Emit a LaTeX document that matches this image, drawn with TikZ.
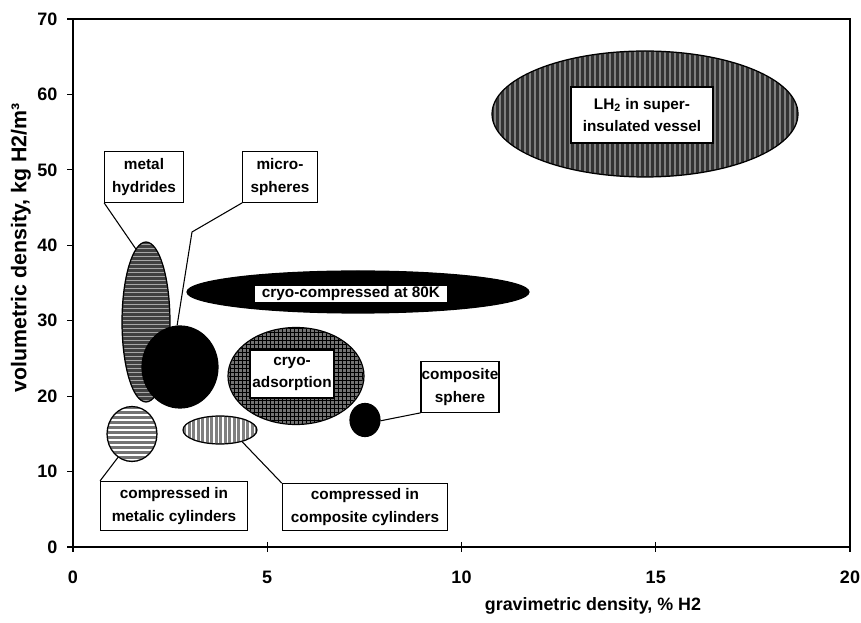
\documentclass[tikz,border=0pt]{standalone}
\usepackage{fontspec}
\setmainfont{Liberation Sans}
\usetikzlibrary{shapes.geometric}
\begin{document}
\begin{tikzpicture}[x=0.75pt,y=-0.75pt,
  ell/.style={ellipse,draw,line width=0.9pt,inner sep=0pt},
  lbox/.style={draw,line width=0.8pt,fill=white,align=center,inner sep=0pt,
    font=\bfseries\fontsize{11.5}{17}\selectfont},
  leader/.style={line width=0.8pt},
  ticklbl/.style={font=\bfseries\fontsize{13.5}{16}\selectfont},
  tickmark/.style={line width=0.8pt}]
\useasboundingbox (0,0) rectangle (861,623);
% frame
\draw[line width=0.9pt] (73,19) rectangle (850,547);
% y axis ticks and labels
\foreach \v/\t in {0/0,1/10,2/20,3/30,4/40,5/50,6/60,7/70}{
  \draw[tickmark] (67,{547-75.43*\v}) -- (73,{547-75.43*\v});
  \node[ticklbl,anchor=east] (ylab\v) at (62,{547-75.43*\v}) {\t};
}
% x axis ticks and labels
\foreach \u in {0,5,10,15,20}{
  \draw[tickmark] ({73+38.85*\u},542) -- ({73+38.85*\u},552);
  \node[ticklbl] (xlab\u) at ({73+38.85*\u},577) {\u};
}
% axis titles
\node[font=\bfseries\fontsize{13.4}{16}\selectfont] (xtitle) at (593,606) {gravimetric density, \% H2};
\node[rotate=90,font=\bfseries\fontsize{16}{19}\selectfont] (ytitle) at (21,248) {volumetric density, kg H2/m³};
% LH2 ellipse
\node[ell,minimum width=229.5pt,minimum height=94.5pt,fill=black!80] (lh2E) at (645,114) {};
\begin{scope}
  \clip (645,114) ellipse [x radius=152, y radius=62];
  \foreach \xx in {494,499,...,800} \fill[black!50] (\xx,50) rectangle ({\xx+1.6},180);
\end{scope}
% cryo-compressed
\node[ell,minimum width=256.5pt,minimum height=31.5pt,fill=black] (ccE80) at (358,292) {};
% cryo-adsorption
\node[ell,minimum width=102pt,minimum height=72.75pt,fill=black!55] (adsE) at (296,376) {};
\begin{scope}
  \clip (296,376) ellipse [x radius=67, y radius=48];
  \foreach \xx in {230,234,...,364} \fill[black] (\xx,326) rectangle ({\xx+1.3},426);
  \foreach \yy in {328,332,...,426} \fill[black] (226,\yy) rectangle (366,{\yy+1.3});
\end{scope}
% metal hydrides
\node[ell,minimum width=36pt,minimum height=120pt,fill=black!75] (mhE) at (146,322) {};
\begin{scope}
  \clip (146,322) ellipse [x radius=23, y radius=79];
  \foreach \yy in {244,248,...,402} \fill[black!35] (120,\yy) rectangle (172,{\yy+1.4});
\end{scope}
% micro-spheres
\node[ell,minimum width=57pt,minimum height=61.5pt,fill=black] (msE) at (180,367) {};
% compressed metallic cylinders
\node[ell,minimum width=37.5pt,minimum height=41.25pt,fill=black!55] (mcE) at (132,434) {};
\begin{scope}
  \clip (132,434) ellipse [x radius=24, y radius=26.5];
  \foreach \yy in {409,414,...,462} \fill[white] (106,\yy) rectangle (158,{\yy+1.8});
\end{scope}
% compressed composite cylinders
\node[ell,minimum width=55.5pt,minimum height=21pt,fill=black!50] (ccE) at (220,430) {};
\begin{scope}
  \clip (220,430) ellipse [x radius=36, y radius=13];
  \foreach \xx in {186,190.5,...,256} \fill[white] (\xx,415) rectangle ({\xx+1.6},445);
\end{scope}
% composite sphere
\node[ell,minimum width=22.5pt,minimum height=24.75pt,fill=black] (csE) at (365,420) {};
% text boxes
\node[lbox,minimum width=106.5pt,minimum height=42pt] (lh2T) at (642,115) {LH\textsubscript{2} in super-\\insulated vessel};
\node[lbox,minimum width=145.5pt,minimum height=13.5pt] (c80T) at (351,294) {cryo-compressed at 80K};
\node[lbox,minimum width=63pt,minimum height=36pt] (adsT) at (292,374) {cryo-\\adsorption};
\node[lbox,minimum width=59pt,minimum height=38pt] (mhT) at (144,177) {metal\\hydrides};
\node[lbox,minimum width=56pt,minimum height=38pt] (msT) at (280,177) {micro-\\spheres};
\node[lbox,minimum width=58.5pt,minimum height=38pt] (csT) at (460,387) {composite\\sphere};
\node[lbox,minimum width=110pt,minimum height=37pt] (mcT) at (174,506) {compressed in\\metalic cylinders};
\node[lbox,minimum width=124pt,minimum height=35pt] (ccT) at (365,507) {compressed in\\composite cylinders};
% leaders
\coordinate (msbend) at (192,232);
\draw[leader] (mhT.south west) -- (mhE.98);
\draw[leader] (msT.south west) -- (msbend) -- (msE.94);
\draw[leader] (csT.south west) -- (csE.-3);
\draw[leader] (mcT.north west) -- (mcE.-121);
\draw[leader] (ccT.north west) -- (ccE.-28);
\end{tikzpicture}
\end{document}
